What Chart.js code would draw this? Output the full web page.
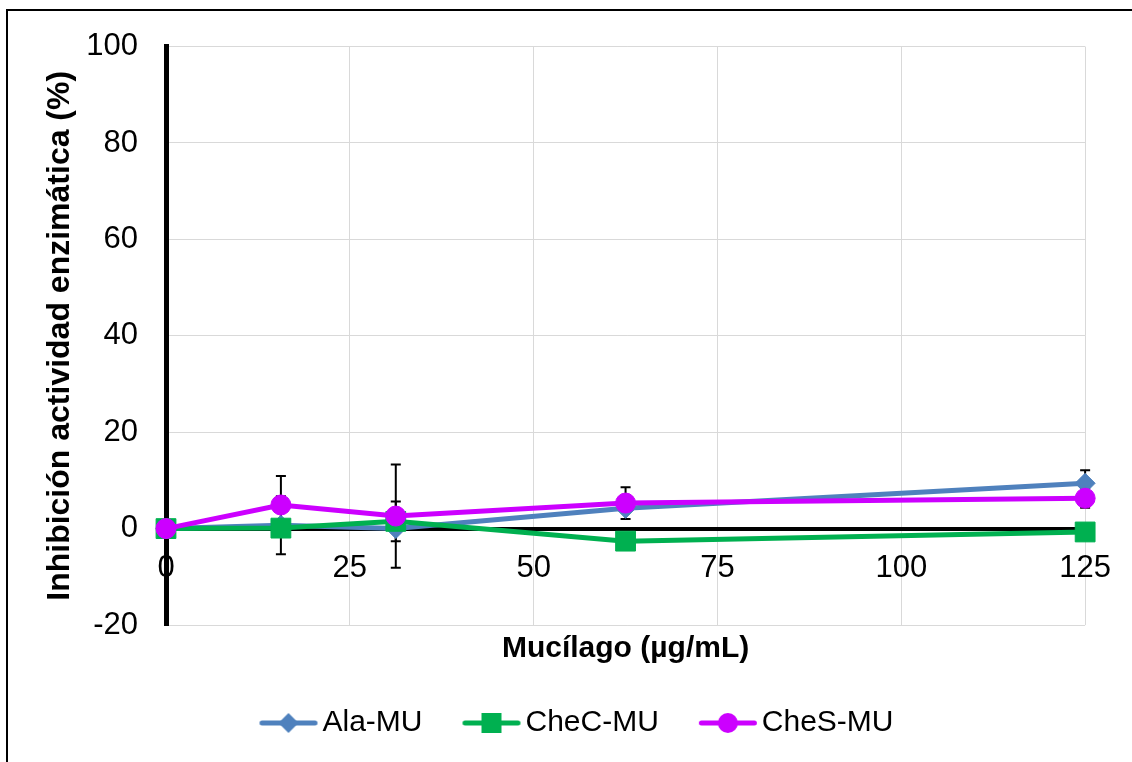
<!DOCTYPE html>
<html>
<head>
<meta charset="utf-8">
<script src="https://cdn.jsdelivr.net/npm/chart.js@4"></script>
<style>
  html, body { margin: 0; padding: 0; background: #fff; }
  #wrap { width: 1132px; height: 762px; position: relative; }
</style>
</head>
<body>
<div id="wrap"><canvas id="chart" width="1132" height="762"></canvas></div>
<script>
// Concentrations tested (µg/mL) and axis ticks
const concentrations = [0, 15.625, 31.25, 62.5, 125];
const xTickStep = 25;
const yTickStep = 20;

// Mean inhibition (%) per extract and its standard deviation
const alaMU   = [0, 0.7, 0.0, 4.2, 9.4];
const alaErr  = [0, 6.0, 0.0, 0.0, 2.7];
const checMU  = [0, 0.1, 1.5, -2.6, -0.7];
const checErr = [0, 0.0, 4.1, 0.0, 0.0];
const chesMU  = [0, 4.9, 2.6, 5.3, 6.3];
const chesErr = [0, 6.0, 10.7, 3.3, 2.0];

const seriesNames = ['Ala-MU', 'CheC-MU', 'CheS-MU'];
const yTitle = 'Inhibición actividad enzimática (%)';
const xTitle = 'Mucílago (µg/mL)';

const COLORS = ['#4F81BD', '#00B050', '#CC00FF'];
const STYLES = ['rectRot', 'rect', 'circle'];
const RADII = [10, 14, 10];

Chart.defaults.font.family = "'Liberation Sans', Arial, sans-serif";
Chart.defaults.color = '#000';

const toPoints = vals => concentrations.map((c, i) => ({ x: c, y: vals[i] }));

// Legend symbol: a short line with the series marker in the middle
function legendSymbol(color, style) {
  const c = document.createElement('canvas');
  c.width = 100; c.height = 30;
  const g = c.getContext('2d');
  g.strokeStyle = color; g.fillStyle = color;
  g.lineWidth = 5; g.lineCap = 'round';
  g.beginPath(); g.moveTo(43.5, 15); g.lineTo(96.5, 15); g.stroke();
  const cx = 70, cy = 15;
  g.beginPath();
  if (style === 'rectRot') {
    g.moveTo(cx, cy - 10); g.lineTo(cx + 10, cy); g.lineTo(cx, cy + 10); g.lineTo(cx - 10, cy); g.closePath();
  } else if (style === 'rect') {
    g.rect(cx - 10, cy - 10, 20, 20);
  } else {
    g.arc(cx, cy, 10, 0, Math.PI * 2);
  }
  g.fill();
  return c;
}
const symbols = COLORS.map((c, i) => legendSymbol(c, STYLES[i]));

// Page frame lines and white background
const framePlugin = {
  id: 'frame',
  beforeDraw(chart) {
    const ctx = chart.ctx;
    ctx.save();
    ctx.fillStyle = '#fff';
    ctx.fillRect(0, 0, chart.width, chart.height);
    ctx.strokeStyle = '#000';
    ctx.lineWidth = 2;
    ctx.beginPath();
    ctx.moveTo(7, chart.height);
    ctx.lineTo(7, 10);
    ctx.lineTo(chart.width, 10);
    ctx.stroke();
    ctx.restore();
  }
};

// Vertical error bars (± SD) drawn beneath the series
const errorBarPlugin = {
  id: 'errorBars',
  beforeDatasetsDraw(chart) {
    const { ctx, scales: { x, y } } = chart;
    ctx.save();
    ctx.strokeStyle = '#000';
    ctx.lineWidth = 2;
    chart.data.datasets.forEach(ds => {
      ds.errors.forEach((e, i) => {
        if (!e) return;
        const v = ds.data[i].y;
        const px = x.getPixelForValue(ds.data[i].x);
        const top = y.getPixelForValue(v + e);
        const bot = y.getPixelForValue(v - e);
        ctx.beginPath();
        ctx.moveTo(px, top); ctx.lineTo(px, bot);
        ctx.moveTo(px - 5, top); ctx.lineTo(px + 5, top);
        ctx.moveTo(px - 5, bot); ctx.lineTo(px + 5, bot);
        ctx.stroke();
      });
    });
    ctx.restore();
  }
};

const values = [alaMU, checMU, chesMU];
const errors = [alaErr, checErr, chesErr];

const datasets = seriesNames.map((name, i) => ({
  label: name,
  data: toPoints(values[i]),
  errors: errors[i],
  borderColor: COLORS[i],
  backgroundColor: COLORS[i],
  borderWidth: 5,
  pointStyle: STYLES[i],
  pointRadius: RADII[i],
  pointHoverRadius: RADII[i],
  pointBorderWidth: 1,
  pointBackgroundColor: COLORS[i],
  pointBorderColor: COLORS[i],
  tension: 0,
  clip: false,
  order: 3 - i
}));

new Chart(document.getElementById('chart'), {
  type: 'line',
  data: { datasets },
  plugins: [framePlugin, errorBarPlugin],
  options: {
    responsive: false,
    animation: false,
    layout: { padding: { left: 36, right: 45, top: 42, bottom: 14 } },
    scales: {
      x: {
        type: 'linear',
        position: { y: 0 },
        min: 0, max: 125,
        ticks: { stepSize: xTickStep, padding: 21, font: { size: 31 }, color: '#000', maxRotation: 0, autoSkip: false },
        grid: { color: '#d9d9d9', lineWidth: 1, drawTicks: false },
        border: { color: '#000', width: 4 },
        title: { display: false }
      },
      y: {
        min: -20, max: 100,
        ticks: { stepSize: yTickStep, padding: 28, font: { size: 31 }, color: '#000' },
        grid: { color: '#d9d9d9', lineWidth: 1, drawTicks: false },
        border: { color: '#000', width: 5 },
        title: { display: true, text: yTitle, color: '#000', font: { size: 32, weight: 'bold' }, padding: { top: 5, bottom: 0 } },
        afterFit(scale) { scale.width = 130; }
      }
    },
    plugins: {
      title: {
        display: true, position: 'bottom', weight: 500, fullSize: false,
        text: xTitle, color: '#000',
        font: { size: 30, weight: 'bold' },
        padding: { top: 6, bottom: 31 }
      },
      legend: {
        position: 'bottom',
        labels: {
          usePointStyle: true,
          pointStyleWidth: 78,
          boxHeight: 30,
          padding: 10,
          color: '#000',
          font: { size: 30 },
          generateLabels(chart) {
            const items = Chart.defaults.plugins.legend.labels.generateLabels(chart);
            items.sort((a, b) => a.datasetIndex - b.datasetIndex);
            items.forEach(it => { it.pointStyle = symbols[it.datasetIndex]; it.fontColor = '#000'; });
            return items;
          }
        }
      },
      tooltip: { enabled: false }
    }
  }
});
</script>
</body>
</html>
